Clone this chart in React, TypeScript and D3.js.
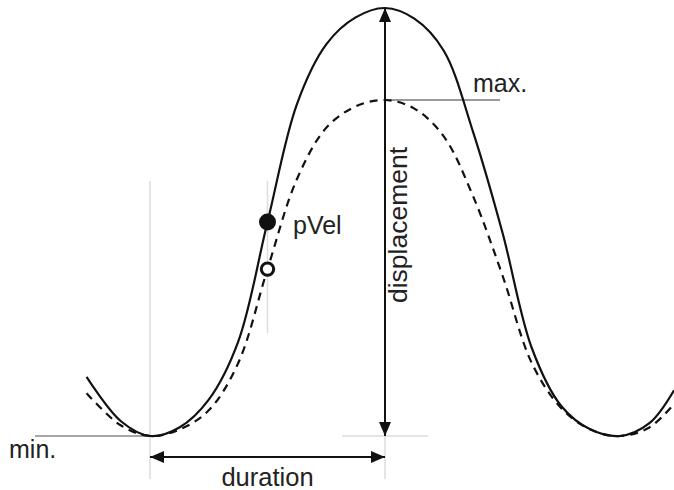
import * as d3 from 'd3';
import { useEffect, useRef } from 'react';

// time (in movement durations) and normalised displacement
const times = [-0.27, -0.125, 0, 0.125, 0.25, 0.375, 0.5, 0.625, 0.75, 0.875, 1, 1.125, 1.25, 1.375, 1.5, 1.625, 1.75, 1.875, 2, 2.125, 2.23];
const actualDisp = [0.138, 0.035, 0, 0.02, 0.085, 0.22, 0.5, 0.775, 0.915, 0.978, 1, 0.975, 0.9, 0.71, 0.475, 0.205, 0.07, 0.015, 0, 0.03, 0.107];
const targetDisp = [0.1, 0.025, 0, 0.015, 0.06, 0.17, 0.39, 0.6, 0.72, 0.77, 0.785, 0.765, 0.7, 0.56, 0.375, 0.17, 0.065, 0.015, 0, 0.02, 0.075];

const startT = 0, peakT = 1, pVelT = 0.5;
const minLevel = 0, maxLevel = 0.785, peakLevel = 1;

const labels = { min: 'min.', max: 'max.', pVel: 'pVel', disp: 'displacement', dur: 'duration' };

function App() {
    const ref = useRef(null);

    useEffect(() => {
        const width = 674, height = 490;
        const font = '"Liberation Sans", Arial, Helvetica, sans-serif';
        const svg = d3.select(ref.current)
            .append('svg')
            .attr('width', width)
            .attr('height', height)
            .style('position', 'absolute')
            .style('left', 0)
            .style('top', 0);

        const x = d3.scaleLinear().domain([0, 2]).range([150, 620]);
        const y = d3.scaleLinear().domain([0, 1]).range([436, 8]);

        const defs = svg.append('defs');
        ['end', 'start'].forEach(k => {
            defs.append('marker')
                .attr('id', 'arr-' + k)
                .attr('markerUnits', 'userSpaceOnUse')
                .attr('viewBox', '0 0 14 12')
                .attr('refX', k === 'end' ? 14 : 0)
                .attr('refY', 6)
                .attr('markerWidth', 14)
                .attr('markerHeight', 12)
                .attr('orient', 'auto')
                .append('path')
                .attr('d', k === 'end' ? 'M0,0 L14,6 L0,12 Z' : 'M14,0 L0,6 L14,12 Z')
                .attr('fill', '#111');
        });

        const guide = '#dcdcdc';
        // light guides
        svg.append('line').attr('x1', x(startT)).attr('x2', x(startT)).attr('y1', 181).attr('y2', 479)
            .attr('stroke', guide).attr('stroke-width', 1.5);
        svg.append('line').attr('x1', x(pVelT)).attr('x2', x(pVelT)).attr('y1', 181).attr('y2', 333)
            .attr('stroke', guide).attr('stroke-width', 1.5);
        svg.append('line').attr('x1', x(peakT)).attr('x2', x(peakT)).attr('y1', y(minLevel)).attr('y2', 479)
            .attr('stroke', guide).attr('stroke-width', 1.5);
        svg.append('line').attr('x1', x(peakT) - 43).attr('x2', x(peakT) + 43).attr('y1', y(minLevel)).attr('y2', y(minLevel))
            .attr('stroke', guide).attr('stroke-width', 1.5);

        // min / max reference lines
        svg.append('line').attr('x1', 35).attr('x2', x(startT)).attr('y1', y(minLevel)).attr('y2', y(minLevel))
            .attr('stroke', '#888').attr('stroke-width', 1.5);
        svg.append('line').attr('x1', x(peakT)).attr('x2', 500).attr('y1', y(maxLevel)).attr('y2', y(maxLevel))
            .attr('stroke', '#777').attr('stroke-width', 1.5);

        const line = d3.line<number>()
            .x((_, i) => x(times[i]))
            .curve(d3.curveCatmullRom.alpha(0.5));

        svg.append('path')
            .datum(targetDisp)
            .attr('fill', 'none')
            .attr('stroke', '#111')
            .attr('stroke-width', 2.2)
            .attr('stroke-dasharray', '8,6')
            .attr('d', line.y(d => y(d)));

        svg.append('path')
            .datum(actualDisp)
            .attr('fill', 'none')
            .attr('stroke', '#111')
            .attr('stroke-width', 2.2)
            .attr('d', line.y(d => y(d)));

        // arrows
        svg.append('line')
            .attr('x1', x(peakT)).attr('x2', x(peakT))
            .attr('y1', y(minLevel)).attr('y2', y(peakLevel))
            .attr('stroke', '#111').attr('stroke-width', 2)
            .attr('marker-start', 'url(#arr-start)')
            .attr('marker-end', 'url(#arr-end)');
        svg.append('line')
            .attr('x1', x(startT)).attr('x2', x(peakT))
            .attr('y1', 457).attr('y2', 457)
            .attr('stroke', '#111').attr('stroke-width', 2)
            .attr('marker-start', 'url(#arr-start)')
            .attr('marker-end', 'url(#arr-end)');

        // peak velocity markers
        const iV = times.indexOf(pVelT);
        svg.append('circle').attr('cx', x(pVelT)).attr('cy', y(actualDisp[iV])).attr('r', 8.5).attr('fill', '#111');
        svg.append('circle').attr('cx', x(pVelT)).attr('cy', y(targetDisp[iV])).attr('r', 6.2)
            .attr('fill', '#fff').attr('stroke', '#111').attr('stroke-width', 3);

        const txt = (s: string, tx: number, ty: number, anchor = 'start', size = 25) =>
            svg.append('text').attr('x', tx).attr('y', ty).attr('text-anchor', anchor)
                .attr('font-family', font).attr('font-size', size).attr('fill', '#222').text(s);

        txt(labels.min, 9, 458);
        txt(labels.max, 473, 92);
        txt(labels.pVel, 293, 234);
        txt(labels.dur, (x(startT) + x(peakT)) / 2, 486, 'middle', 25.5);
        txt(labels.disp, 0, 0, 'middle', 26.5).attr('transform', `translate(407, 225) rotate(-90)`);

        return () => {
            svg.remove();
        };
    }, []);

    return <div ref={ref} />;
}

export default App;
